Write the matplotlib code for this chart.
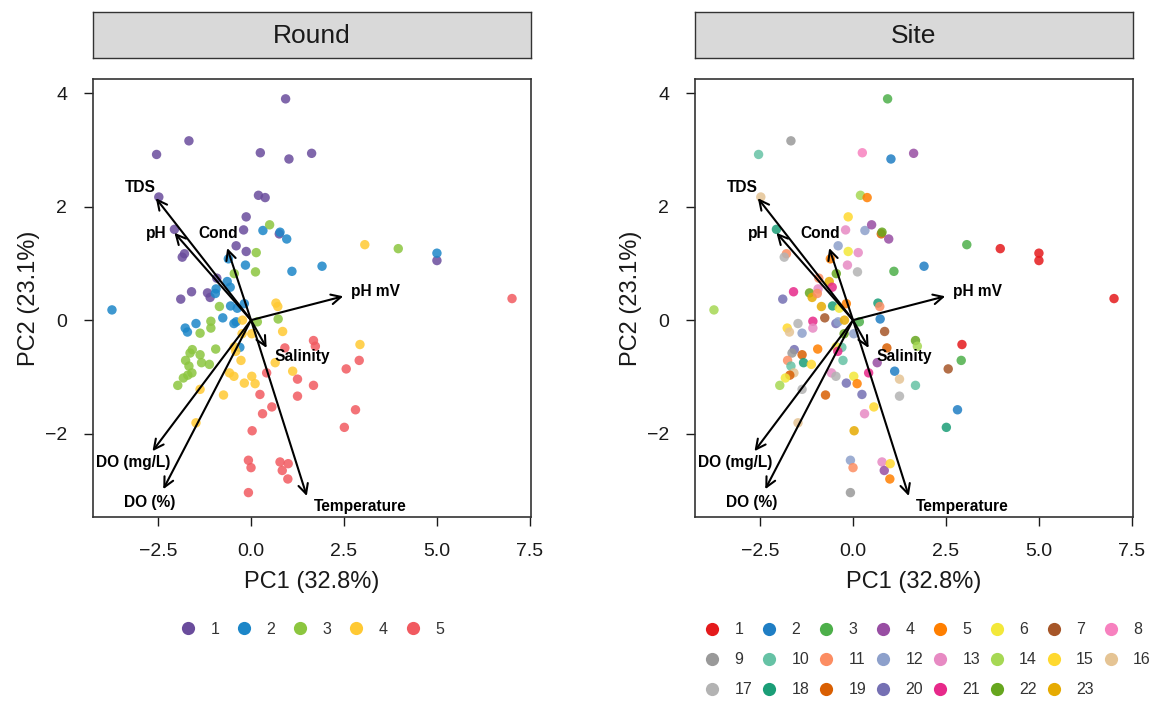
import matplotlib
matplotlib.use("Agg")
import matplotlib.pyplot as plt
from matplotlib.lines import Line2D
import numpy as np

plt.rcParams["font.family"] = ["Liberation Sans", "DejaVu Sans"]

# PCA scores, one entry per sample
pc1 = [
    # round 1
    0.93, -1.67, -2.54, 0.25, 1.02, 1.63, -2.48, 0.20, 0.38, -0.13, -0.20, 0.76,
    -2.06, -0.40, -0.13, -1.79, -1.85, 5.00, -0.92, -1.60, -1.89, -1.17, -1.10,
    # round 2
    0.32, 0.78, 0.96, -0.61, -0.15, 1.10, 5.00, 1.91, -3.74, -0.64, -0.56, -0.94,
    -0.96, -0.55, -0.37, -0.18, -0.76, -1.48, -1.77, -1.71, -0.46, -0.40, -0.30,
    # round 3
    0.50, 0.14, 3.96, 0.12, -0.45, -0.85, -1.08, -1.08, -1.37, 0.17, 0.73, -1.58,
    -1.64, -1.37, -0.95, -1.76, -1.67, -1.33, -1.12, -1.59, -1.70, -1.82, -1.97,
    # round 4
    3.06, 0.67, 0.72, -0.23, 0.85, 0.02, -0.24, -0.45, -0.41, -0.27, -0.58, -0.46,
    -0.18, 0.02, 0.11, -0.74, -1.37, -1.48, 0.65, 1.12, 2.93,
    # round 5
    7.02, 1.68, 1.73, 0.91, 0.42, 1.25, 1.25, 0.24, 0.56, 0.31, 0.03, -0.07,
    0.00, 0.78, 0.84, 1.00, 0.99, -0.07, 2.91, 2.56, 1.68, 2.81, 2.51,
]
pc2 = [
    3.90, 3.16, 2.92, 2.95, 2.84, 2.94, 2.17, 2.20, 2.16, 1.82, 1.59, 1.52,
    1.60, 1.31, 1.21, 1.17, 1.11, 1.05, 0.74, 0.50, 0.37, 0.48, 0.40,
    1.58, 1.55, 1.43, 1.08, 0.97, 0.86, 1.18, 0.95, 0.18, 0.68, 0.58, 0.55,
    0.47, 0.25, 0.21, 0.29, 0.04, -0.06, -0.14, -0.21, -0.06, -0.03, -0.48,
    1.68, 1.19, 1.26, 0.85, 0.82, 0.24, -0.02, -0.14, -0.23, -0.03, 0.02, -0.52,
    -0.58, -0.61, -0.51, -0.71, -0.81, -0.75, -0.78, -0.93, -0.97, -1.02, -1.15,
    1.33, 0.30, 0.24, 0.00, -0.20, -0.24, -0.24, -0.47, -0.55, -0.71, -0.93, -0.99,
    -1.11, -0.99, -1.12, -1.32, -1.22, -1.81, -0.75, -0.90, -0.43,
    0.38, -0.36, -0.46, -0.49, -0.93, -1.04, -1.34, -1.31, -1.53, -1.65, -1.95, -2.47,
    -2.60, -2.50, -2.65, -2.53, -2.80, -3.04, -0.71, -0.86, -1.15, -1.58, -1.89,
]
sample_round = [1] * 23 + [2] * 23 + [3] * 23 + [4] * 21 + [5] * 23
site = [
    3, 9, 10, 8, 2, 4, 16, 14, 5, 15, 13, 19, 18, 12, 6, 11, 17, 1, 11, 21, 20, 22, 23,
    12, 22, 4, 5, 13, 3, 1, 2, 14, 23, 21, 13, 11, 18, 6, 5, 7, 17, 15, 16, 20, 12, 10,
    4, 13, 1, 17, 22, 23, 21, 13, 12, 3, 2, 20, 9, 19, 5, 11, 10, 18, 15, 16, 19, 6, 14,
    3, 18, 11, 23, 7, 12, 22, 6, 21, 10, 13, 17, 20, 6, 5, 19, 17, 16, 4, 2, 1,
    1, 22, 14, 19, 21, 16, 17, 20, 15, 13, 23, 12, 11, 13, 4, 15, 5, 9, 3, 7, 10, 2, 18,
]

# variable loadings (arrow tips) and where their labels sit
variables = ["TDS", "pH", "Cond", "pH mV", "Salinity", "Temperature", "DO (mg/L)", "DO (%)"]
load_pc1 = [-2.56, -2.06, -0.64, 2.48, 0.42, 1.50, -2.65, -2.36]
load_pc2 = [2.15, 1.54, 1.27, 0.42, -0.49, -3.10, -2.31, -2.98]
label_pc1 = [-2.98, -2.56, -0.88, 3.36, 1.37, 2.93, -3.16, -2.73]
label_pc2 = [2.33, 1.52, 1.52, 0.50, -0.64, -3.28, -2.51, -3.21]

round_levels = [1, 2, 3, 4, 5]
round_colors = ["#6A4C9C", "#1C86C8", "#8CC63F", "#FFC933", "#F15A60"]
site_levels = list(range(1, 24))
site_colors = [
    "#E41A1C", "#1F7EC4", "#4DAF4A", "#984EA3", "#FF7F00", "#F3E83A", "#A65628",
    "#F781BF", "#999999", "#66C2A5", "#FC8D62", "#8DA0CB", "#E78AC3", "#A6D854",
    "#FFD92F", "#E5C494", "#B3B3B3", "#1B9E77", "#D95F02", "#7570B3", "#E7298A",
    "#66A61E", "#E6AB02",
]

W, H = 1152, 702
fig = plt.figure(figsize=(W / 100, H / 100), dpi=100)


def px_box(x0, y0, x1, y1):
    return [x0 / W, 1 - y1 / H, (x1 - x0) / W, (y1 - y0) / H]


def row_major(items, ncol):
    # matplotlib fills legend columns first; reorder so entries read across rows
    nrow = -(-len(items) // ncol)
    return [items[r * ncol + c] for c in range(ncol) for r in range(nrow)
            if r * ncol + c < len(items)]


def draw_panel(left, title, groups, levels, colors, ncol, colspacing, legend_xy):
    ax = fig.add_axes(px_box(left, 79, left + 438, 517))
    strip = fig.add_axes(px_box(left, 12, left + 438, 58))
    strip.set_facecolor("#D9D9D9")
    strip.set_xticks([])
    strip.set_yticks([])
    for s in strip.spines.values():
        s.set_color("#333333")
        s.set_linewidth(1.0)
    strip.text(0.5, 0.47, title, ha="center", va="center", fontsize=19, color="#1A1A1A")

    x = np.array(pc1)
    y = np.array(pc2)
    g = np.array(groups)
    cmap = dict(zip(levels, colors))
    ax.scatter(x, y, s=46, c=[cmap[v] for v in g], alpha=0.85, linewidths=0, zorder=2)

    for vx, vy, lx, ly, name in zip(load_pc1, load_pc2, label_pc1, label_pc2, variables):
        ax.annotate("", xy=(vx, vy), xytext=(0, 0),
                    arrowprops=dict(arrowstyle="->,head_length=0.7,head_width=0.35",
                                    color="black", lw=1.5, shrinkA=0, shrinkB=0),
                    zorder=3)
        ax.text(lx, ly, name, ha="center", va="center", fontsize=11.2,
                fontweight="bold", zorder=4)

    ax.set_xlim(-4.25, 7.53)
    ax.set_ylim(-3.47, 4.25)
    ax.set_xticks([-2.5, 0.0, 2.5, 5.0, 7.5])
    ax.set_yticks([-2, 0, 2, 4])
    ax.tick_params(labelsize=14, length=6.5, width=1.0, pad=12,
                   color="#1A1A1A", labelcolor="#1A1A1A")
    for s in ax.spines.values():
        s.set_color("#333333")
        s.set_linewidth(1.2)
    ax.set_xlabel("PC1 (32.8%)", fontsize=17, color="#1A1A1A", labelpad=8)
    ax.set_ylabel("PC2 (23.1%)", fontsize=17, color="#1A1A1A", labelpad=4)

    handles = [Line2D([], [], marker="o", linestyle="", markersize=9.5,
                      markerfacecolor=c, markeredgewidth=0) for c in colors]
    labels = [str(v) for v in levels]
    ax.legend(row_major(handles, ncol), row_major(labels, ncol), loc="center",
              bbox_to_anchor=legend_xy, ncol=ncol, frameon=False, fontsize=11.5,
              handlelength=1.0, handletextpad=0.9, columnspacing=colspacing,
              labelspacing=0.95, labelcolor="#333333")
    return ax


draw_panel(93, "Round", sample_round, round_levels, round_colors, 5, 1.06, (0.5, -0.256))
draw_panel(695, "Site", site, site_levels, site_colors, 8, 0.55, (0.531, -0.326))

fig.savefig("out.png", dpi=100)
